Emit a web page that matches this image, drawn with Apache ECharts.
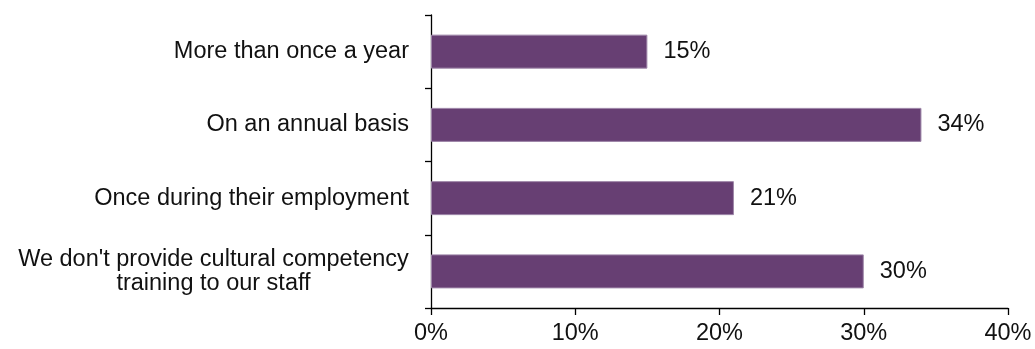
<!DOCTYPE html>
<html>
<head>
<meta charset="utf-8">
<script src="https://cdn.jsdelivr.net/npm/echarts@6/dist/echarts.min.js"></script>
<style>
  html, body { margin: 0; padding: 0; background: #fff; }
  #chart { width: 1035px; height: 349px; }
</style>
</head>
<body>
<div id="chart"></div>
<script>
// Frequency of cultural competency training
const categories = [
  'More than once a year',
  'On an annual basis',
  'Once during their employment',
  "We don't provide cultural competency\ntraining to our staff"
];
const values = [15, 34, 21, 30];
const xTicks = [0, 10, 20, 30, 40];

const FONT = '"Liberation Sans", Arial, sans-serif';
const FONT_SIZE = 23.5;
const LINE_H = 24;

// width of one line of text, so the lines of a wrapped label can be centred on each other
function textWidth(s) {
  const c = document.createElement('canvas').getContext('2d');
  c.font = FONT_SIZE + 'px ' + FONT;
  return Math.ceil(c.measureText(s).width);
}
const wrapWidth = Math.max.apply(null, categories.map(function (c) {
  const parts = c.split('\n');
  return parts.length > 1 ? Math.max.apply(null, parts.map(textWidth)) : 0;
}));

const chart = echarts.init(document.getElementById('chart'), null, { renderer: 'canvas' });

chart.setOption({
  animation: false,
  grid: { left: 431, right: 27, top: 15, bottom: 41, containLabel: false },
  xAxis: {
    type: 'value',
    min: xTicks[0],
    max: xTicks[xTicks.length - 1],
    interval: 10,
    axisLine: { show: true, lineStyle: { color: '#000', width: 1.3 } },
    axisTick: { show: true, length: 7, lineStyle: { color: '#000', width: 1.3 } },
    splitLine: { show: false },
    axisLabel: {
      formatter: '{value}%',
      color: '#111',
      fontFamily: FONT,
      fontSize: FONT_SIZE,
      margin: 14
    }
  },
  yAxis: {
    type: 'category',
    data: categories,
    inverse: true,
    axisLine: { show: true, lineStyle: { color: '#000', width: 1.3 } },
    axisTick: { show: true, length: 6, lineStyle: { color: '#000', width: 1.3 } },
    axisLabel: {
      color: '#111',
      fontFamily: FONT,
      fontSize: FONT_SIZE,
      margin: 22,
      lineHeight: LINE_H,
      formatter: function (v) {
        const lines = v.split('\n');
        if (lines.length === 1) return v;
        return lines.map(function (l) { return '{c|' + l + '}'; }).join('\n');
      },
      rich: {
        c: {
          width: wrapWidth,
          align: 'center',
          fontFamily: FONT,
          fontSize: FONT_SIZE,
          lineHeight: LINE_H,
          color: '#111'
        }
      }
    }
  },
  series: [{
    type: 'bar',
    data: values,
    barWidth: 34,
    itemStyle: { color: '#673F73', borderColor: '#9E86A8', borderWidth: 1 },
    label: {
      show: true,
      position: 'right',
      distance: 16,
      formatter: '{c}%',
      color: '#111',
      fontFamily: FONT,
      fontSize: FONT_SIZE
    }
  }]
});
</script>
</body>
</html>
